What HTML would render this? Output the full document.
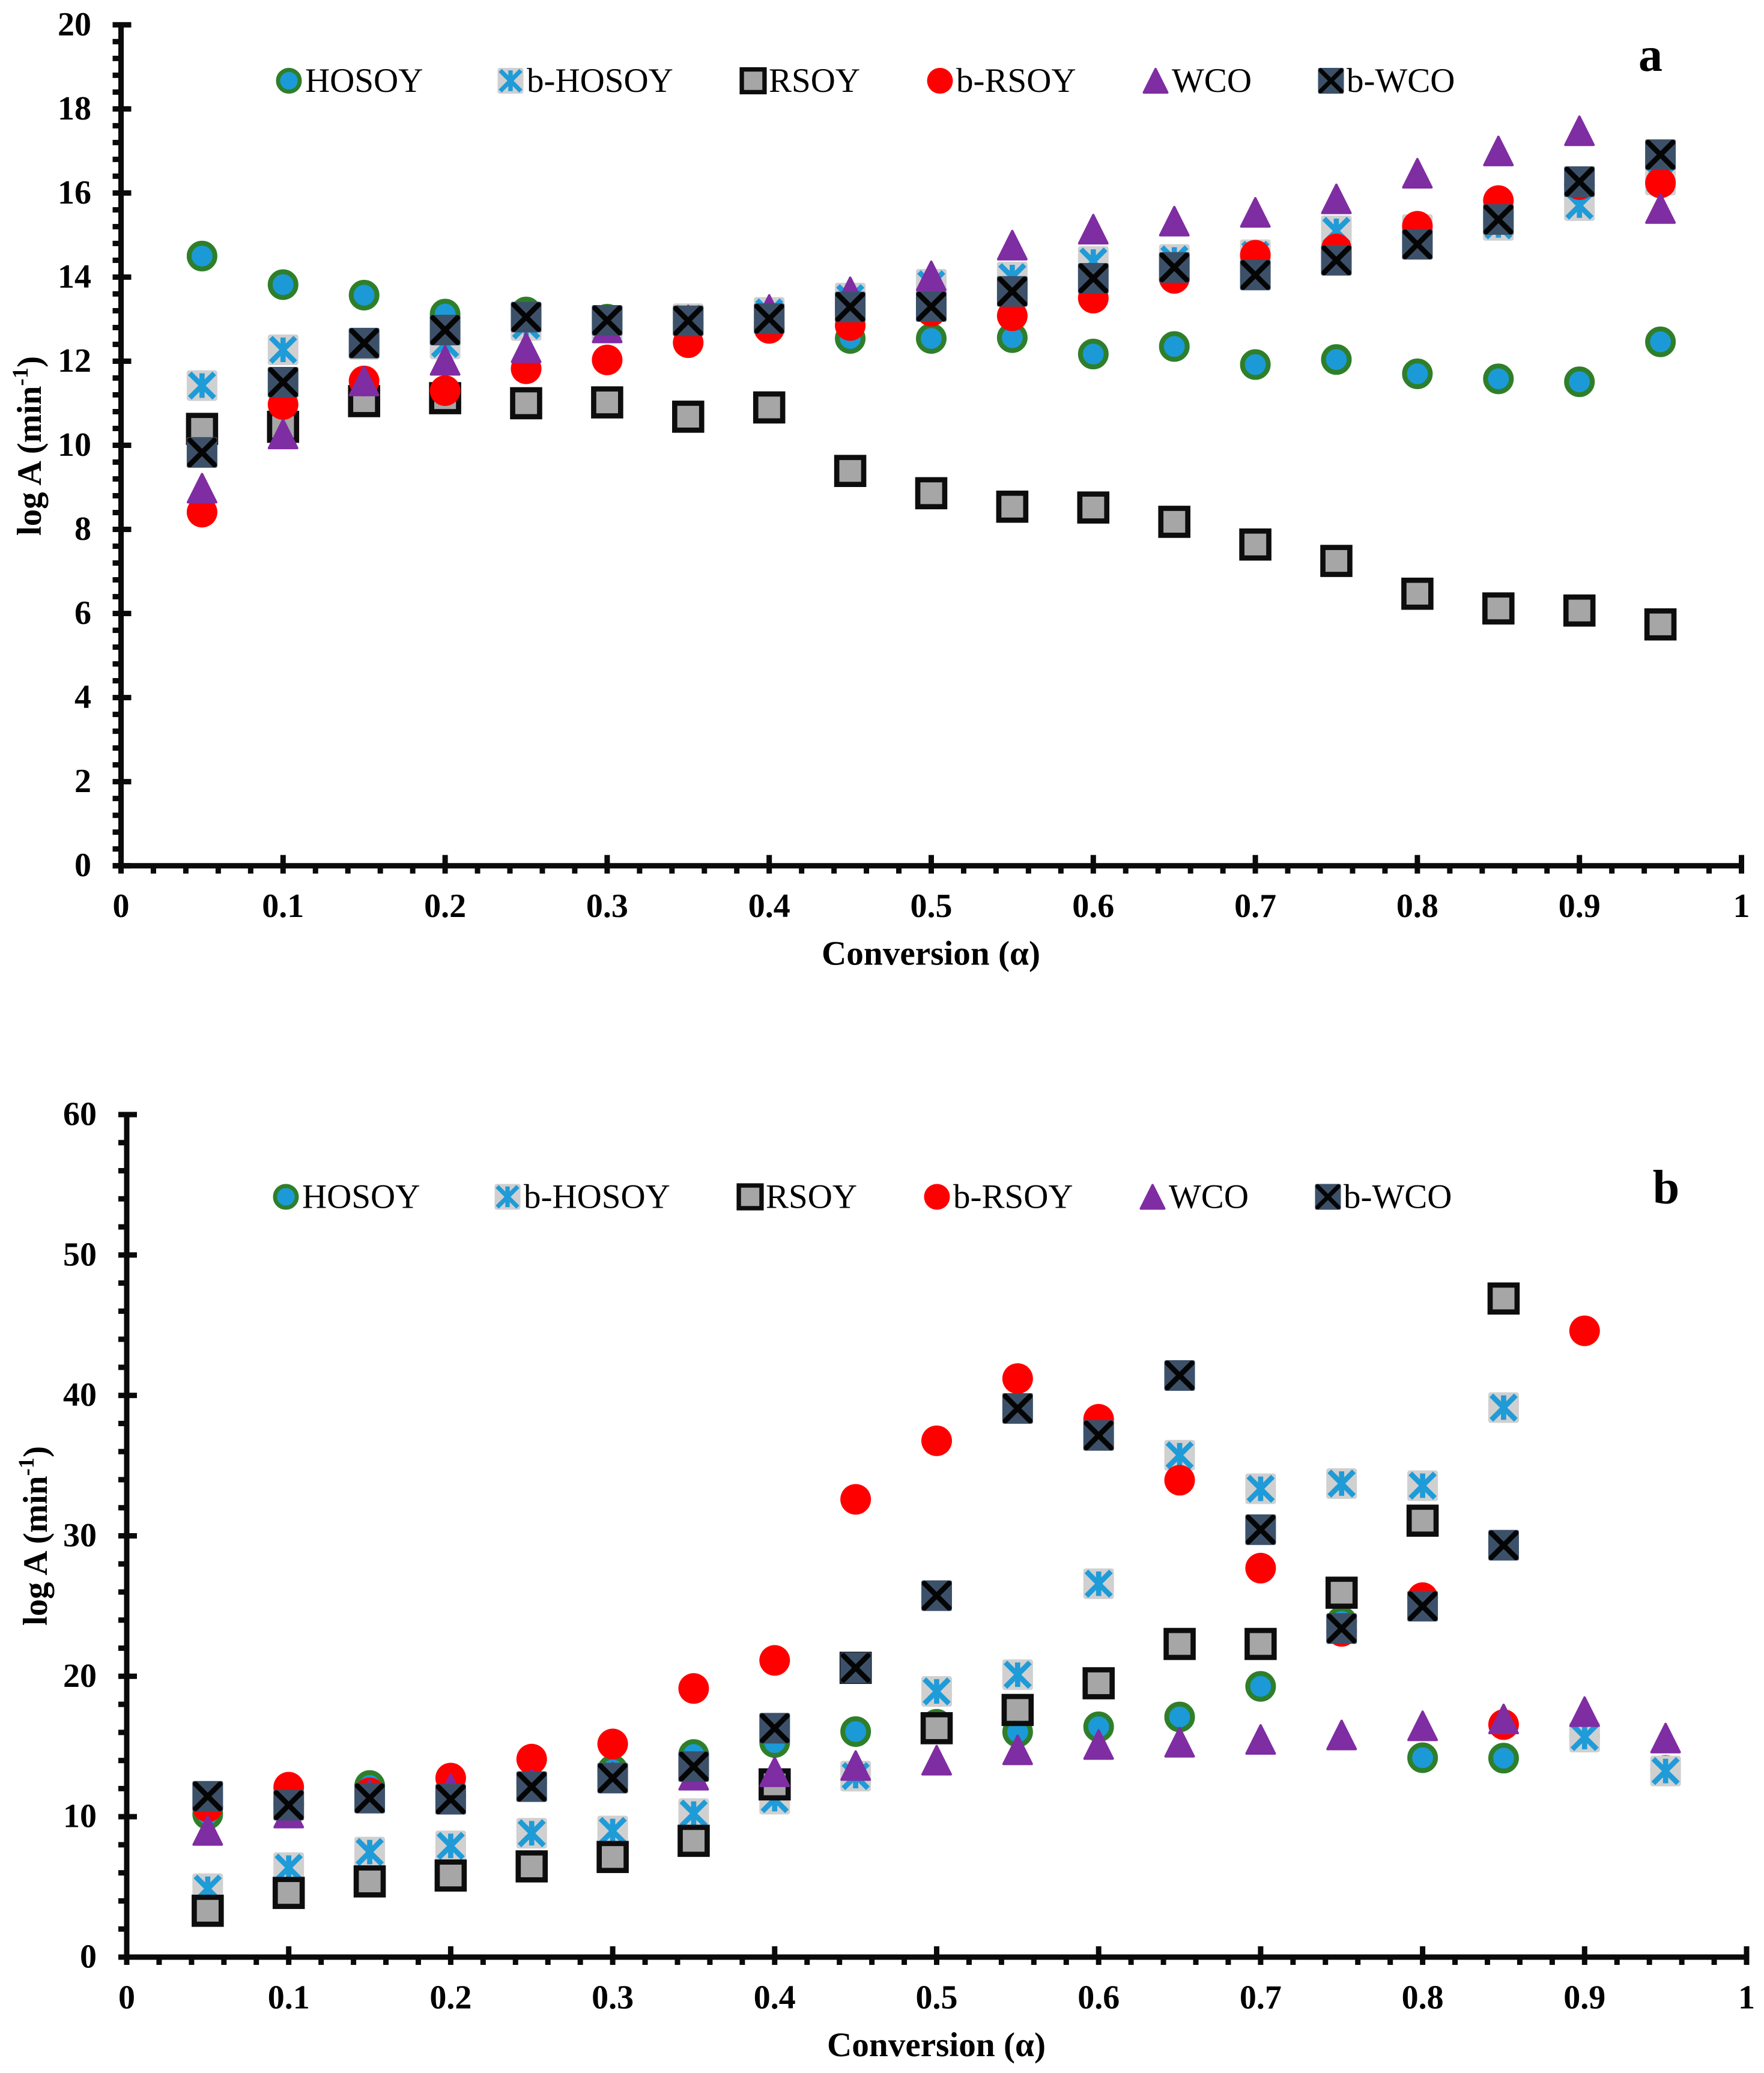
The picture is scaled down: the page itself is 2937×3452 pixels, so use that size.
<!DOCTYPE html>
<html lang="en">
<head>
<meta charset="utf-8">
<title>log A versus conversion</title>
<style>
html,body{margin:0;padding:0;background:#fff;width:2937px;height:3452px;overflow:hidden}
svg{display:block}
text{font-family:"Liberation Serif","Noto Serif CJK SC",serif;fill:#000}
.tick{font-size:56px;font-weight:bold}
.title{font-size:57px;font-weight:bold}
.legend{font-size:57px}
.panel{font-size:80px;font-weight:bold}
</style>
</head>
<body>
<svg id="figure" xmlns="http://www.w3.org/2000/svg" width="2937" height="3452" viewBox="0 0 2937 3452"></svg>
<script>
const seriesNames = ['HOSOY','b-HOSOY','RSOY','b-RSOY','WCO','b-WCO'];
const conversion = [0.05,0.1,0.15,0.2,0.25,0.3,0.35,0.4,0.45,0.5,0.55,0.6,0.65,0.7,0.75,0.8,0.85,0.9,0.95];
const xTickLabels = ['0','0.1','0.2','0.3','0.4','0.5','0.6','0.7','0.8','0.9','1'];

const yTickLabelsA = ['0','2','4','6','8','10','12','14','16','18','20'];
const hosoyA  = [14.50,13.82,13.57,13.12,13.17,13.0,12.9,12.8,12.54,12.54,12.56,12.17,12.35,11.92,12.04,11.70,11.58,11.51,12.46];
const bHosoyA = [11.42,12.27,12.4,12.41,12.85,12.8,13.01,13.16,13.5,13.83,14.0,14.37,14.42,14.53,15.1,15.13,15.23,15.7,16.31];
const rsoyA   = [10.39,10.44,11.05,11.12,11.0,11.02,10.68,10.9,9.39,8.86,8.54,8.52,8.18,7.64,7.25,6.47,6.12,6.07,5.74];
const bRsoyA  = [8.41,10.97,11.53,11.3,11.82,12.03,12.44,12.78,12.85,13.19,13.08,13.5,13.97,14.52,14.67,15.21,15.82,16.2,16.24];
const wcoA    = [8.98,10.27,11.53,12.02,12.32,12.79,12.98,13.23,13.65,14.03,14.76,15.14,15.33,15.54,15.86,16.47,17.0,17.48,15.63];
const bWcoA   = [9.83,11.5,12.43,12.74,13.05,12.97,12.96,13.01,13.29,13.30,13.66,13.97,14.23,14.05,14.4,14.78,15.37,16.27,16.91];

const yTickLabelsB = ['0','10','20','30','40','50','60'];
const hosoyB  = [10.17,10.9,12.22,11.5,12.37,13.33,14.43,15.28,16.06,16.58,16.03,16.4,17.1,19.28,23.9,14.2,14.17,15.75,13.3];
const bHosoyB = [4.87,6.37,7.48,7.92,8.82,8.98,10.22,11.25,12.89,18.92,20.11,26.59,35.74,33.35,33.72,33.57,39.13,15.67,13.25];
const rsoyB   = [3.3,4.57,5.39,5.81,6.46,7.13,8.28,12.3,20.6,16.3,17.6,19.5,22.3,22.3,25.95,31.08,46.9,null,null];
const bRsoyB  = [10.7,12.1,11.7,12.75,14.1,15.18,19.13,21.13,32.6,36.77,41.2,38.3,33.96,27.7,23.2,25.6,16.56,44.6,null];
const wcoB    = [9.02,10.26,11.55,11.99,12.32,12.83,12.95,13.2,13.64,14.02,14.76,15.14,15.3,15.5,15.82,16.47,16.96,17.48,15.6];
const bWcoB   = [11.45,10.82,11.32,11.24,12.14,12.75,13.57,16.3,20.6,25.74,39.07,37.15,41.42,30.44,23.4,24.99,29.33,null,null];

const NS = 'http://www.w3.org/2000/svg';
const figure = document.getElementById('figure');

function make(parent, tag, attrs, text) {
  const el = document.createElementNS(NS, tag);
  for (const k in attrs) el.setAttribute(k, attrs[k]);
  if (text !== undefined) el.textContent = text;
  parent.appendChild(el);
  return el;
}

function drawSymbol(g, kind, s) {
  const h = s / 2;
  if (kind === 0) {
    make(g, 'circle', {cx:0, cy:0, r:h - s*0.08, fill:'#1b9ad7', stroke:'#2f7f2a', 'stroke-width':s*0.16});
  } else if (kind === 1) {
    make(g, 'rect', {x:-h, y:-h, width:s, height:s, rx:s*0.08, fill:'#d0d0d0'});
    const i = h - s*0.1;
    make(g, 'path', {d:`M${-i} ${-i}L${i} ${i}M${i} ${-i}L${-i} ${i}M0 ${-i}L0 ${i}`, stroke:'#1f9bd8', 'stroke-width':s*0.17, fill:'none'});
  } else if (kind === 2) {
    const b = s*1.05, t = s*0.17;
    make(g, 'rect', {x:-b/2 + t/2, y:-b/2 + t/2, width:b - t, height:b - t, fill:'#a6a6a6', stroke:'#0d0d0d', 'stroke-width':t});
  } else if (kind === 3) {
    make(g, 'circle', {cx:0, cy:0, r:h, fill:'#ff0000'});
  } else if (kind === 4) {
    const i = 2;
    make(g, 'polygon', {points:`0,${-h + i} ${h - i},${h - i} ${-h + i},${h - i}`, fill:'#7f2da2', stroke:'#7f2da2', 'stroke-width':i*2, 'stroke-linejoin':'round'});
  } else {
    make(g, 'rect', {x:-h, y:-h, width:s, height:s, rx:s*0.06, fill:'#3c5169'});
    const i = h - s*0.1;
    make(g, 'path', {d:`M${-i} ${-i}L${i} ${i}M${i} ${-i}L${-i} ${i}`, stroke:'#050505', 'stroke-width':s*0.17, 'stroke-linecap':'round', fill:'none'});
  }
}

function renderChart(cfg) {
  const root = make(figure, 'g', {});
  
  

  const xScale = v => cfg.x0 + v * cfg.xSpan;
  const yMax = Number(cfg.yTicks[cfg.yTicks.length - 1]);
  const yScale = v => cfg.y0 - v / yMax * cfg.ySpan;

  const axes = make(root, 'g', {fill:'#0a0a0a'});
  
  

  const yLine = make(axes, 'rect', {x:cfg.x0 - 4.5, y:yScale(yMax) - 4, width:9, height:cfg.ySpan + 8});
  
  
  const xLine = make(axes, 'rect', {x:cfg.x0 - 14, y:cfg.y0 - 4.5, width:cfg.xSpan + 18, height:9});
  
  

  // y ticks
  const yStep = yMax / (cfg.yTicks.length - 1);
  for (let i = 0; i < cfg.yTicks.length; i++) {
    const v = Number(cfg.yTicks[i]);
    const py = yScale(v);
    const tick = make(axes, 'rect', {x:cfg.x0 - 14, y:py - 4.5, width:31, height:9});
    
    
    const label = make(root, 'text', {class:'tick', x:cfg.yLabelX, y:py + 17.5, 'text-anchor':'end'}, cfg.yTicks[i]);
    
    
    if (i < cfg.yTicks.length - 1) {
      for (let m = 1; m < 5; m++) {
        const minor = make(axes, 'rect', {x:cfg.x0 - 14, y:yScale(v + yStep * m / 5) - 4.5, width:14, height:9});
        
        
      }
    }
  }

  // x ticks
  for (let i = 0; i < xTickLabels.length; i++) {
    const v = Number(xTickLabels[i]);
    const px = xScale(v);
    const tick = make(axes, 'rect', {x:px - 4.5, y:cfg.y0 - 18, width:9, height:31});
    
    
    const label = make(root, 'text', {class:'tick', x:px, y:cfg.y0 + 85.5, 'text-anchor':'middle'}, xTickLabels[i]);
    
    
    if (i < xTickLabels.length - 1) {
      for (let m = 1; m < 5; m++) {
        const minor = make(axes, 'rect', {x:xScale(v + 0.1 * m / 5) - 4.5, y:cfg.y0, width:9, height:13});
        
        
      }
    }
  }

  // axis titles
  const xTitle = make(root, 'text', {class:'title', x:cfg.xTitleX, y:cfg.y0 + 165, textLength:364, lengthAdjust:'spacingAndGlyphs'}, 'Conversion (α)');
  
  
  const yTitle = make(root, 'text', {class:'title', transform:`translate(${cfg.yTitleX} ${cfg.yTitleStart}) rotate(-90)`, x:0, y:0, textLength:299, lengthAdjust:'spacingAndGlyphs'});
  
  
  make(yTitle, 'tspan', {}, 'log A (min');
  make(yTitle, 'tspan', {dy:-22, 'font-size':37}, '-1');
  make(yTitle, 'tspan', {dy:22}, ')');

  // markers
  cfg.series.forEach((vals, k) => {
    const sg = make(root, 'g', {});
    
    
    vals.forEach((v, i) => {
      if (v === null) return;
      const g = make(sg, 'g', {transform:`translate(${xScale(conversion[i])} ${yScale(v)})`});
      
      
      drawSymbol(g, k, 51);
    });
  });

  // legend
  const lg = make(root, 'g', {});
  
  
  const markX = [481, 850, 1254, 1565, 1924, 2216];
  const textX = [508, 877, 1280, 1592, 1951, 2242];
  seriesNames.forEach((name, k) => {
    const entry = make(lg, 'g', {});
    
    
    const g = make(entry, 'g', {transform:`translate(${markX[k] + cfg.legendDx} ${cfg.legendY})`});
    drawSymbol(g, k, 43);
    make(entry, 'text', {class:'legend', x:textX[k] + cfg.legendDx, y:cfg.legendY + 18.5}, name);
  });

  const panel = make(root, 'text', {class:'panel', x:cfg.panelX, y:cfg.panelY, 'text-anchor':'middle'}, cfg.panel);
  
  
}

renderChart({
  id:'chart-a', panel:'a', panelX:2748, panelY:118,
  x0:201.5, xSpan:2698, y0:1441.7, ySpan:1400.4,
  yTicks:yTickLabelsA, yLabelX:152,
  xTitleX:1368, yTitleX:68, yTitleStart:892,
  legendDx:0, legendY:134.5,
  series:[hosoyA,bHosoyA,rsoyA,bRsoyA,wcoA,bWcoA]
});
renderChart({
  id:'chart-b', panel:'b', panelX:2774, panelY:2004,
  x0:211, xSpan:2697, y0:3259, ySpan:1403,
  yTicks:yTickLabelsB, yLabelX:161,
  xTitleX:1377, yTitleX:78, yTitleStart:2707,
  legendDx:-5, legendY:1993,
  series:[hosoyB,bHosoyB,rsoyB,bRsoyB,wcoB,bWcoB]
});
</script>
</body>
</html>
